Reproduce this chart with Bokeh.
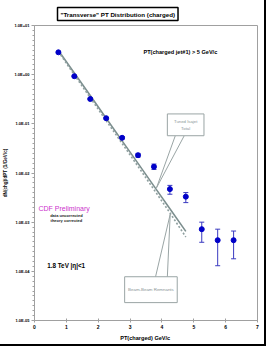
from bokeh.plotting import figure
from bokeh.models import FixedTicker, CustomJSTickFormatter, Range1d
from bokeh.core.properties import value
from bokeh.embed import file_html
from bokeh.resources import INLINE

# ---- data ----
pt = [0.75, 1.25, 1.75, 2.25, 2.75, 3.25, 3.75, 4.25, 4.75, 5.25, 5.75, 6.25]
dens = [2.85, 0.93, 0.32, 0.13, 0.052, 0.023, 0.0134, 0.0047, 0.0033, 0.00072, 0.00043, 0.00043]
err_lo = [2.75, 0.90, 0.31, 0.125, 0.049, 0.021, 0.0118, 0.0037, 0.0025, 0.00039, 0.00013, 0.00018]
err_hi = [2.95, 0.96, 0.33, 0.135, 0.055, 0.025, 0.0152, 0.0056, 0.0040, 0.00100, 0.00072, 0.00066]

theory_pt = [0.75, 1.25, 1.75, 2.25, 2.75, 3.25, 3.75, 4.25, 4.75]
total = [3.1, 1.08, 0.376, 0.13, 0.045, 0.0157, 0.0054, 0.00188, 0.00065]
bbr = [2.95, 0.99, 0.34, 0.116, 0.040, 0.0136, 0.0046, 0.00155, 0.00050]

x_ticks = [0, 1, 2, 3, 4, 5, 6, 7]
y_ticks = [1e-5, 1e-4, 1e-3, 1e-2, 1e-1, 1e0, 1e1]

FONT = "Liberation Sans"
AXIS_GRAY = "#a0a0a0"
THEORY = "#7d8f8f"
BLUE = "#0000c8"
EBLUE = "#3a3ac0"

p = figure(width=263, height=343, y_axis_type="log",
           x_range=Range1d(0, 7), y_range=Range1d(1e-5, 10),
           output_backend="svg", toolbar_location=None,
           min_border_left=32, min_border_right=6,
           min_border_top=25, min_border_bottom=21)

p.styles = {"outline": "2px solid black", "outline-offset": "1px"}

# title
p.title.text = '"Transverse" PT Distribution (charged)'
p.title.text_font = FONT
p.title.text_font_size = "6.2px"
p.title.text_font_style = "bold"
p.title.text_color = "black"
p.title.align = "left"
p.title.offset = 23
p.title.border_line_color = "black"
p.title.border_line_width = 1.5
p.title.background_fill_color = "white"
try:
    p.title.padding = 3
except Exception:
    pass

p.xgrid.visible = False
p.ygrid.visible = False
p.outline_line_color = AXIS_GRAY
p.outline_line_width = 1
p.background_fill_color = "white"

# axes
p.xaxis.ticker = FixedTicker(ticks=x_ticks)
p.xaxis.major_tick_in = 2
p.xaxis.major_tick_out = 2
p.xaxis.axis_label = "PT(charged)  GeV/c"

minor = []
for k in range(-5, 1):
    for i in range(1, 10):
        minor.append(10 ** (k + i / 10))
p.yaxis.ticker = FixedTicker(ticks=y_ticks, minor_ticks=minor)
p.yaxis.formatter = CustomJSTickFormatter(code="""
const e = Math.round(Math.log10(tick));
const a = Math.abs(e);
return "1.0E" + (e < 0 ? "-" : "+") + (a < 10 ? "0" + a : "" + a);
""")
p.yaxis.major_tick_in = 0
p.yaxis.major_tick_out = 3
p.yaxis.minor_tick_in = 0
p.yaxis.minor_tick_out = 2
p.yaxis.axis_label = "dN(chg)/dPT (1/GeV/c)"

for ax in (p.xaxis[0], p.yaxis[0]):
    ax.axis_line_color = AXIS_GRAY
    ax.major_tick_line_color = AXIS_GRAY
    ax.major_label_text_font = FONT
    ax.major_label_text_font_style = "bold"
    ax.major_label_text_color = "black"
    ax.axis_label_text_font = FONT
    ax.axis_label_text_font_style = "bold"
    ax.axis_label_text_color = "black"
    ax.major_label_standoff = 2
    ax.axis_label_standoff = 3
p.xaxis.minor_tick_line_color = None
p.yaxis.minor_tick_line_color = AXIS_GRAY
p.xaxis.major_label_text_font_size = "5px"
p.yaxis.major_label_text_font_size = "4px"
p.xaxis.axis_label_text_font_size = "5.6px"
p.yaxis.axis_label_text_font_size = "4.6px"

# theory curves
p.line(theory_pt, total, line_color=THEORY, line_width=1.6)
p.line(theory_pt, bbr, line_color="#8fa0a0", line_width=1.6, line_dash="2 2")

# callout boxes (annotation)
p.multi_line(xs=[[4.42, 3.83, 4.70]], ys=[[0.0573, 0.0050, 0.0573]],
             line_color="#9aa5a5", line_width=1)
p.quad(left=[4.17], right=[5.32], bottom=[0.0573], top=[0.159],
       fill_color="white", line_color="#9aa5a5", line_width=1)
p.text(x=[4.745, 4.745], y=[0.110, 0.079], text=["Tuned Isajet", "Total"],
       text_font=value(FONT), text_font_size=value("4.3px"),
       text_color="#8a9595", text_align="center", text_baseline="middle")

p.multi_line(xs=[[3.80, 4.26, 4.17]], ys=[[7.76e-5, 0.00145, 7.76e-5]],
             line_color="#9aa5a5", line_width=1)
p.quad(left=[2.83], right=[4.48], bottom=[2.31e-5], top=[7.76e-5],
       fill_color="white", line_color="#9aa5a5", line_width=1)
p.text(x=[3.655], y=[4.23e-5], text=["Beam-Beam Remnants"],
       text_font=value(FONT), text_font_size=value("4.4px"),
       text_color="#8a9595", text_align="center", text_baseline="middle")

# data with error bars
p.segment(x0=pt, y0=err_lo, x1=pt, y1=err_hi, line_color=EBLUE, line_width=1)
p.scatter(x=pt, y=err_lo, marker="dash", size=5, line_color=EBLUE, line_width=1)
p.scatter(x=pt, y=err_hi, marker="dash", size=5, line_color=EBLUE, line_width=1)
p.scatter(x=pt, y=dens, marker="circle", size=5, fill_color=BLUE, line_color=BLUE)

# texts
def txt(x, y, s, size, color="black", style="bold", align="left"):
    p.text(x=[x], y=[y], text=[s], text_font=value(FONT),
           text_font_size=value(size), text_font_style=style,
           text_color=color, text_align=align, text_baseline="middle")

txt(3.42, 2.85, "PT(charged jet#1) > 5 GeV/c", "5.6px")
txt(0.124, 0.00192, "CDF Preliminary", "7px", color="#cc33cc", style="normal")
txt(1.0, 0.00138, "data uncorrected", "4px", color="#222222", align="center")
txt(1.0, 0.00110, "theory corrected", "4px", color="#222222", align="center")
txt(0.40, 1.29e-4, "1.8 TeV |\u03b7|<1", "6.3px")

open("out.html", "w").write(file_html(p, INLINE))
